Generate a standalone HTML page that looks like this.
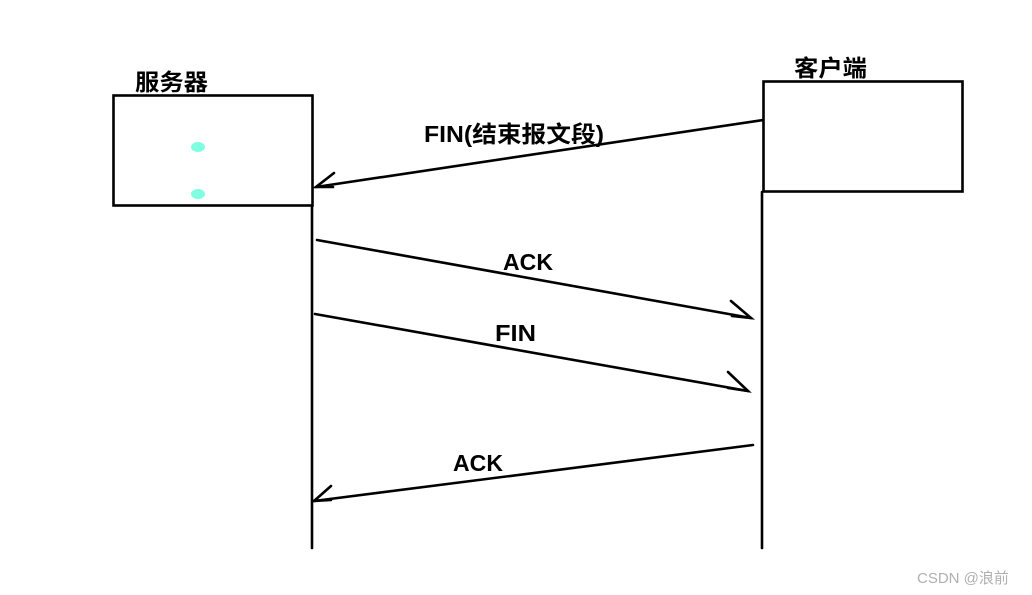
<!DOCTYPE html>
<html><head><meta charset="utf-8"><style>
html,body{margin:0;padding:0;background:#fff;width:1032px;height:595px;overflow:hidden}
svg text{font-family:"Liberation Sans","Noto Sans CJK SC",sans-serif;font-weight:bold;fill:#000}
</style></head><body>
<svg width="1032" height="595" viewBox="0 0 1032 595" xmlns="http://www.w3.org/2000/svg">
<g fill="none" stroke="#000" stroke-width="2.6" stroke-linecap="round">
<rect x="113.5" y="95.5" width="199" height="110"/>
<rect x="763.5" y="81.5" width="199" height="110"/>
<line x1="312" y1="206" x2="312" y2="548"/>
<line x1="762" y1="192" x2="762" y2="548"/>
<line x1="763" y1="120" x2="316" y2="187"/>
<polyline points="334,173 316,187 333,187"/>
<line x1="317" y1="240" x2="751" y2="318"/>
<polyline points="731,301 751,318 732,316"/>
<line x1="315" y1="314" x2="748" y2="391"/>
<polyline points="728,372 748,391 728,388"/>
<line x1="753" y1="445" x2="314" y2="501"/>
<polyline points="331,486 314,501 331,500"/>
</g>
<ellipse cx="198" cy="147" rx="7" ry="5" fill="#7fffe0"/>
<ellipse cx="198" cy="194" rx="7" ry="5" fill="#7fffe0"/>
<text x="135" y="90" font-size="23" textLength="73" lengthAdjust="spacingAndGlyphs">服务器</text>
<text x="794" y="76" font-size="23" textLength="73" lengthAdjust="spacingAndGlyphs">客户端</text>
<text x="424" y="142" font-size="23" textLength="180" lengthAdjust="spacingAndGlyphs">FIN(结束报文段)</text>
<text x="503" y="270" font-size="23" textLength="50" lengthAdjust="spacingAndGlyphs">ACK</text>
<text x="495" y="341" font-size="23" textLength="41" lengthAdjust="spacingAndGlyphs">FIN</text>
<text x="453" y="471" font-size="23" textLength="50" lengthAdjust="spacingAndGlyphs">ACK</text>
<text x="917" y="583" font-size="15" style="font-weight:normal;fill:#b0b0b0">CSDN @浪前</text>
</svg>
</body></html>
